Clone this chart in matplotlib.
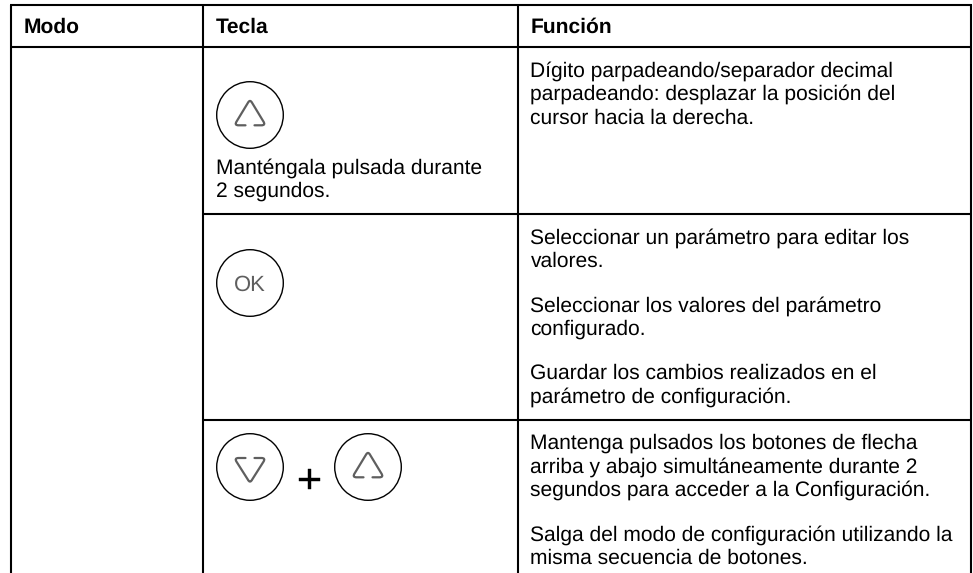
import matplotlib
matplotlib.use("Agg")
import matplotlib.pyplot as plt
import matplotlib.patheffects as pe
from matplotlib.patches import Circle, PathPatch
from matplotlib.path import Path

plt.rcParams["font.family"] = ["Liberation Sans", "DejaVu Sans"]
plt.rcParams["text.hinting"] = "no_hinting"
plt.rcParams["text.hinting_factor"] = 1

headers = ["Modo", "Tecla", "Función"]
key_note = ["Manténgala pulsada durante", "2 segundos."]
row1_text = [
    "Dígito parpadeando/separador decimal",
    "parpadeando: desplazar la posición del",
    "cursor hacia la derecha.",
]
row2_text = [
    "Seleccionar un parámetro para editar los",
    "valores.",
    "Seleccionar los valores del parámetro",
    "configurado.",
    "Guardar los cambios realizados en el",
    "parámetro de configuración.",
]
row3_text = [
    "Mantenga pulsados los botones de flecha",
    "arriba y abajo simultáneamente durante 2",
    "segundos para acceder a la Configuración.",
    "Salga del modo de configuración utilizando la",
    "misma secuencia de botones.",
]

header_x = [23.5, 215.5, 530.5]
key_note_y = [173.3, 196.6]
row1_y = [76.6, 100, 123.3]
row2_y = [243.3, 266.6, 311.3, 334.6, 379, 402.3]
row3_y = [449, 472.3, 495.6, 540.6, 564]

BODY = 15
GREY = "#5f5f5f"


def triangle(ax, cx, base_y, tip_y):
    """Grey arrow glyph: open triangle with a gap in the middle of its base"""
    hw = 14.5
    gap = 4.5
    s = 1.0 if tip_y < base_y else -1.0
    verts = [
        (cx - gap, base_y), (cx - hw + 3, base_y),
        (cx - hw - 1.5, base_y), (cx - hw + 1.2, base_y - s * 4),
        (cx - 2.2, tip_y + s * 3.5), (cx, tip_y - s * 0.8), (cx + 2.2, tip_y + s * 3.5),
        (cx + hw - 1.2, base_y - s * 4),
        (cx + hw + 1.5, base_y), (cx + hw - 3, base_y),
        (cx + gap, base_y),
    ]
    codes = [Path.MOVETO, Path.LINETO, Path.CURVE3, Path.CURVE3, Path.LINETO,
             Path.CURVE3, Path.CURVE3, Path.LINETO, Path.CURVE3, Path.CURVE3,
             Path.LINETO]
    ax.add_patch(PathPatch(Path(verts, codes), fill=False, ec=GREY, lw=1.6,
                           capstyle="round", joinstyle="round"))


def button(ax, cx, cy):
    ax.add_patch(Circle((cx, cy), 33.3, fill=False, ec="black", lw=1.0))


def main():
    fig = plt.figure(figsize=(9.73, 5.73), dpi=100)
    ax = fig.add_axes([0, 0, 1, 1])
    ax.set_xlim(0, 973)
    ax.set_ylim(573, 0)
    ax.axis("off")

    # table grid
    lw = 1.5
    ax.plot([11, 11], [4.5, 573], color="black", lw=lw, solid_capstyle="butt")
    ax.plot([203, 203], [4.5, 573], color="black", lw=lw, solid_capstyle="butt")
    ax.plot([518, 518], [4.5, 573], color="black", lw=lw, solid_capstyle="butt")
    ax.plot([970.5, 970.5], [4.5, 573], color="black", lw=lw, solid_capstyle="butt")
    ax.plot([10, 971.5], [5, 5], color="black", lw=lw, solid_capstyle="butt")
    ax.plot([10, 971.5], [46.5, 46.5], color="black", lw=lw, solid_capstyle="butt")
    ax.plot([203, 971.5], [213.5, 213.5], color="black", lw=lw, solid_capstyle="butt")
    ax.plot([203, 971.5], [420, 420], color="black", lw=lw, solid_capstyle="butt")

    for x, label in zip(header_x, headers):
        ax.text(x, 33, label, fontsize=BODY, fontweight="bold", va="baseline")

    for y, line in zip(key_note_y, key_note):
        ax.text(215.5, y, line, fontsize=BODY, va="baseline", color="black")
    for lines, ys in [(row1_text, row1_y), (row2_text, row2_y), (row3_text, row3_y)]:
        for y, line in zip(ys, lines):
            ax.text(530.5, y, line, fontsize=BODY, va="baseline", color="black")

    # key icons
    button(ax, 250, 115)
    triangle(ax, 250, 125.3, 99.5)
    button(ax, 250, 283)
    ax.text(250, 290.5, "OK", fontsize=15.5, color=GREY, ha="center", va="baseline")
    button(ax, 250, 467)
    triangle(ax, 250, 458, 483)
    ax.text(309.5, 493, "+", fontsize=30, ha="center", va="baseline", color="black",
            path_effects=[pe.withStroke(linewidth=0.3, foreground="black")])
    button(ax, 368, 467)
    triangle(ax, 368, 477.3, 451.5)

    fig.savefig("out.png", dpi=100)


if __name__ == "__main__":
    main()
